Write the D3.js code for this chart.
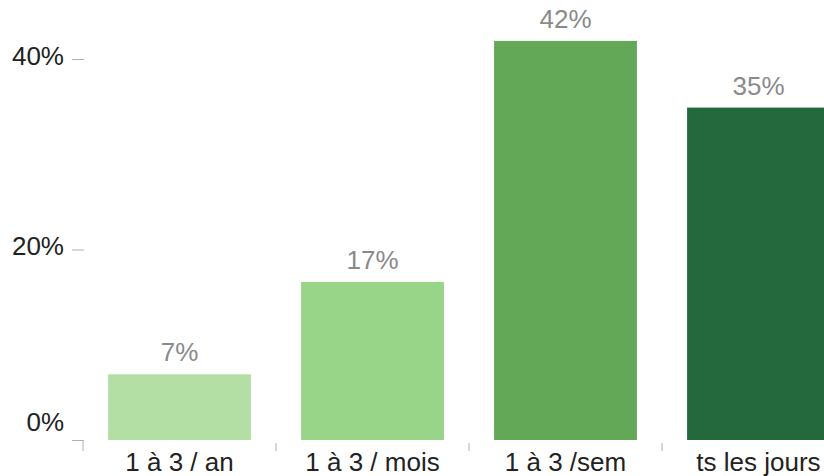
<!DOCTYPE html>
<html>
<head>
<meta charset="utf-8">
<script src="https://cdn.jsdelivr.net/npm/d3@7"></script>
<style>
  html, body { margin: 0; padding: 0; background: #fff; overflow: hidden; }
  svg { display: block; font-family: "Liberation Sans", Arial, sans-serif; }
</style>
</head>
<body>
<svg id="chart" width="824" height="476"></svg>
<script>
const categories = ["1 à 3 / an", "1 à 3 / mois", "1 à 3 /sem", "ts les jours"];
const values = [6.9, 16.6, 41.9, 34.9];
const valueLabels = ["7%", "17%", "42%", "35%"];
const colors = ["#b3dfa5", "#98d588", "#62a857", "#24683d"];
const yTicks = [0, 20, 40];
const yTickLabels = ["0%", "20%", "40%"];

const svg = d3.select("#chart");

const x = d3.scaleBand().domain(categories).range([83, 855])
  .paddingInner(0.26).paddingOuter(0.13);
const y = d3.scaleLinear().domain([0, 40]).range([440, 59]);

// bars
svg.append("g").selectAll("rect").data(categories).join("rect")
  .attr("x", d => x(d))
  .attr("width", x.bandwidth())
  .attr("y", (d, i) => y(values[i]))
  .attr("height", (d, i) => y(0) - y(values[i]))
  .attr("fill", (d, i) => colors[i]);

// value labels
svg.append("g").selectAll("text").data(categories).join("text")
  .attr("x", d => x(d) + x.bandwidth() / 2)
  .attr("y", (d, i) => y(values[i]) - 13)
  .attr("text-anchor", "middle")
  .attr("font-size", 26)
  .attr("fill", "#8a8a8a")
  .text((d, i) => valueLabels[i]);

// y axis
const yAxis = svg.append("g").attr("transform", "translate(84,0)")
  .call(d3.axisLeft(y).tickValues(yTicks).tickSize(12).tickPadding(8)
    .tickFormat((d, i) => yTickLabels[i]));
yAxis.select(".domain").remove();
yAxis.selectAll(".tick line").attr("stroke", "#b0b0b0");
yAxis.selectAll(".tick text")
  .attr("font-size", 26)
  .attr("font-family", "Liberation Sans, Arial, sans-serif")
  .attr("fill", "#222")
  .attr("dy", d => d === 0 ? "-9.5" : "5");

// x axis ticks at band boundaries
const step = x.step();
const boundaries = d3.range(categories.length + 1).map(i => x.range()[0] + i * step);
svg.append("g").selectAll("line").data(boundaries).join("line")
  .attr("x1", d => d).attr("x2", d => d)
  .attr("y1", (d, i) => i === 0 ? 440 : 443)
  .attr("y2", 451)
  .attr("stroke", "#b0b0b0");

// x labels
svg.append("g").selectAll("text").data(categories).join("text")
  .attr("x", d => x(d) + x.bandwidth() / 2)
  .attr("y", 471)
  .attr("text-anchor", "middle")
  .attr("font-size", 26)
  .attr("fill", "#222")
  .text(d => d);
</script>
</body>
</html>
